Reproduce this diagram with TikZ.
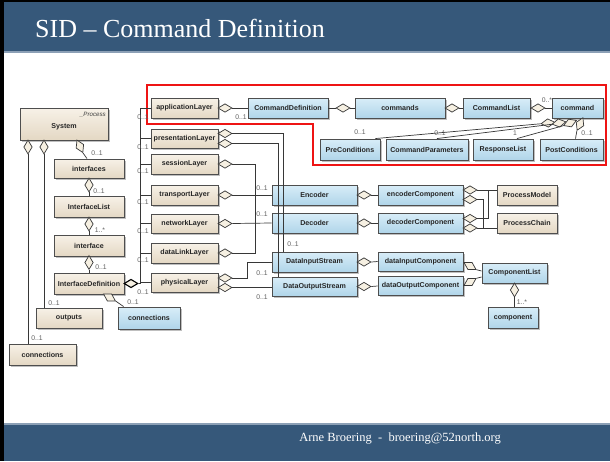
\documentclass[tikz,border=0pt]{standalone}
\usepackage{fontspec}
\setmainfont{Liberation Serif}
\setsansfont{Liberation Sans}
\usetikzlibrary{shapes.geometric,shadows}

\definecolor{barblue}{RGB}{54,88,122}
\definecolor{barline}{RGB}{140,160,182}
\definecolor{beigeTop}{RGB}{247,241,231}
\definecolor{beigeBot}{RGB}{228,216,196}
\definecolor{blueTop}{RGB}{216,237,248}
\definecolor{blueBot}{RGB}{176,213,233}
\definecolor{boxline}{RGB}{78,78,78}
\definecolor{wire}{RGB}{55,55,55}
\definecolor{multc}{RGB}{95,95,95}
\definecolor{aggfill}{RGB}{246,240,226}
\definecolor{framered}{RGB}{238,20,20}

\tikzset{
  cls/.style={draw=boxline, line width=0.9pt, inner sep=0pt,
    font=\sffamily\bfseries\fontsize{7.1}{8}\selectfont, text=black!85,
    drop shadow={shadow xshift=1.6pt, shadow yshift=-1.6pt, fill=black!45, opacity=0.55}},
  beige/.style={cls, top color=beigeTop, bottom color=beigeBot},
  bluebox/.style={cls, top color=blueTop, bottom color=blueBot},
  sz/.style 2 args={minimum width=#1pt, minimum height=#2pt},
  agg/.style={diamond, draw=wire, fill=aggfill, line width=0.7pt, inner sep=0pt,
    minimum width=14pt, minimum height=8.5pt},
  aggv/.style={agg, rotate=-90},
  wire/.style={draw=wire, line width=0.7pt},
  mult/.style={font=\sffamily\fontsize{6.8}{7}\selectfont, text=multc, inner sep=0pt},
}

\begin{document}
\begin{tikzpicture}[x=1pt,y=-1pt]
\useasboundingbox (0,0) rectangle (610,461);

% slide background, frame and bars
\fill[white] (0,0) rectangle (610,461);
\fill[black] (0,0) rectangle (4,461);
\fill[black] (0,0) rectangle (610,2);
\fill[barblue] (4,2) rectangle (610,51);
\fill[barline] (4,51) rectangle (610,53);
\fill[barline] (4,423) rectangle (610,425);
\fill[barblue] (4,425) rectangle (610,461);
\node[anchor=base west, text=white, font=\fontsize{26}{30}\selectfont, inner sep=0pt] (title) at (35,37) {SID – Command Definition};
\node[anchor=base east, text=white, font=\fontsize{12.5}{14}\selectfont, inner sep=0pt] (footer) at (501,441) {Arne Broering\ \ -\ \ broering@52north.org};

% highlighted command part
\draw[framered, line width=2pt] (147,85) -- (606,85) -- (606,165) -- (313,165) -- (313,124) -- (147,124) -- cycle;

% ---- classes: system side
\node[beige, sz={88}{32}] (sys) at (64,124) {\raisebox{-4pt}[0pt][0pt]{System}};
\node[font=\sffamily\itshape\fontsize{6.2}{7}\selectfont, text=black!75, anchor=north east, inner sep=0pt] (sysns) at (106,112) {\_Process};
\node[beige, sz={70}{19}] (ifs) at (89,168.5) {interfaces};
\node[beige, sz={70}{21}] (ifl) at (89,207) {InterfaceList};
\node[beige, sz={70}{21}] (ifc) at (89,245.5) {interface};
\node[beige, sz={70}{21}] (idef) at (89,283.5) {InterfaceDefinition};
\node[beige, sz={66}{20}] (outs) at (69,318) {outputs};
\node[beige, sz={67}{21}] (connL) at (42.5,354.5) {connections};
\node[bluebox, sz={62}{22}] (connM) at (149,318) {connections};

% ---- layers
\node[beige, sz={67}{20}] (app) at (184.5,108) {applicationLayer};
\node[beige, sz={67}{19}] (pres) at (184.5,138.5) {presentationLayer};
\node[beige, sz={67}{20}] (sess) at (184.5,164) {sessionLayer};
\node[beige, sz={67}{20}] (trans) at (184.5,195) {transportLayer};
\node[beige, sz={67}{19}] (net) at (184.5,223.5) {networkLayer};
\node[beige, sz={67}{20}] (dl) at (184.5,253) {dataLinkLayer};
\node[beige, sz={67}{19}] (phys) at (184.5,282.5) {physicalLayer};

% ---- command definition
\node[bluebox, sz={80}{20}] (cd) at (288,108) {CommandDefinition};
\node[bluebox, sz={90}{20}] (cmds) at (400,108) {commands};
\node[bluebox, sz={67}{20}] (cl) at (496.5,108) {CommandList};
\node[bluebox, sz={51}{20}] (cmd) at (577.5,108) {command};
\node[bluebox, sz={60}{21}] (pre) at (350,149.5) {PreConditions};
\node[bluebox, sz={82}{21}] (cpar) at (427,149.5) {CommandParameters};
\node[bluebox, sz={60}{21}] (resp) at (503,149.5) {ResponseList};
\node[bluebox, sz={63}{21}] (post) at (571.5,149.5) {PostConditions};

% ---- processing chain
\node[bluebox, sz={85}{20}] (enc) at (314.5,195) {Encoder};
\node[bluebox, sz={85}{20}] (dec) at (314.5,223) {Decoder};
\node[bluebox, sz={85}{20}] (dis) at (314.5,262) {DataInputStream};
\node[bluebox, sz={85}{19}] (dos) at (314.5,286.5) {DataOutputStream};
\node[bluebox, sz={85}{20}] (encC) at (420.5,195) {encoderComponent};
\node[bluebox, sz={85}{20}] (decC) at (420.5,223) {decoderComponent};
\node[bluebox, sz={85}{19}] (disC) at (420.5,261.5) {dataInputComponent};
\node[bluebox, sz={85}{19}] (dosC) at (420.5,286) {dataOutputComponent};
\node[beige, sz={60}{20}] (pm) at (527,195) {ProcessModel};
\node[beige, sz={60}{20}] (pc) at (527,223) {ProcessChain};
\node[bluebox, sz={65}{20}] (clist) at (514.5,273) {ComponentList};
\node[bluebox, sz={50}{21}] (comp) at (513,317.5) {component};

% ---- aggregation diamonds
\node[aggv] (dSysA) at (28,147) {};
\node[aggv] (dSysB) at (44,147) {};
\node[agg, rotate=-65] (dSysC) at (79.9,146.3) {};
\node[aggv] (dIfs) at (89,185) {};
\node[aggv] (dIfl) at (89,224) {};
\node[aggv] (dIfc) at (89,262.5) {};
\node[agg, rotate=-30] (dIdC) at (109.5,297.5) {};
\node[agg, draw=black, line width=1.1pt] (dIdL) at (131,283.5) {};

\node[agg] (dApp) at (225,108) {};
\node[agg] (dPres1) at (225,133.5) {};
\node[agg] (dPres2) at (225,143.5) {};
\node[agg] (dSess) at (225,164) {};
\node[agg] (dTrans) at (225,195) {};
\node[agg] (dNet) at (225,223.5) {};
\node[agg] (dDL) at (225,253) {};
\node[agg] (dPhys1) at (225,278) {};
\node[agg] (dPhys2) at (225,287.5) {};

\node[agg] (dCD) at (343,108) {};
\node[agg] (dCmds) at (452,108) {};
\node[agg] (dCL) at (538,108) {};
\node[agg, rotate=6] (dC1) at (548,123) {};
\node[agg, rotate=10] (dC2) at (559,123) {};
\node[agg, rotate=22] (dC3) at (570,123) {};
\node[agg, rotate=65] (dC4) at (580,124) {};

\node[agg] (dEnc) at (364,195) {};
\node[agg] (dDec) at (364,223) {};
\node[agg] (dDIS) at (364,262) {};
\node[agg] (dDOS) at (364,286.5) {};
\node[agg] (dEncC1) at (470,190) {};
\node[agg] (dEncC2) at (470,199.5) {};
\node[agg] (dDecC1) at (470,218.5) {};
\node[agg] (dDecC2) at (470,228) {};
\node[agg, rotate=-30] (dDIC) at (470,266) {};
\node[agg, rotate=30] (dDOC) at (470,282) {};
\node[aggv] (dCLb) at (514.5,290) {};

% ---- connectors: system side
\draw[wire] (dSysA.east) -- (dSysA.east |- connL.north);
\draw[wire] (dSysB.east) -- (dSysB.east |- outs.north);
\draw[wire] (dSysC.east) -- ([xshift=-2pt]ifs.north);
\draw[wire] (dIfs.east) -- (ifl.north);
\draw[wire] (dIfl.east) -- (ifc.north);
\draw[wire] (dIfc.east) -- (idef.north);
\draw[wire] (dIdC.east) -- ([xshift=6pt]connM.north west);

% layer bus
\coordinate (bus) at (140,108);
\draw[wire] (dIdL.east) -| (bus |- app.west) -- (app.west);
\foreach \l in {pres,sess,trans,net,dl,phys}
  \draw[wire] (bus |- \l.west) -- (\l.west);

% layers to command and processing classes
\draw[wire] (dApp.east) -- (cd.west);
\draw[wire] (dPres1.east) -| ([xshift=-31.5pt]dis.north);
\draw[wire] (dPres2.east) -| ([xshift=-36.5pt]dos.north);
\coordinate (sbus) at (255,253);
\draw[wire] (dSess.east) -| (sbus) -- (dDL.east);
\draw[wire] (dTrans.east) -- (enc.west);
\draw[wire] (dNet.east) -- (dec.west);
\draw[wire] (dPhys1.east) -- ++(15,0) |- (dis.west);
\draw[wire] (dPhys2.east) -- (dPhys2.east -| dos.west);

% command definition
\draw[wire] (cd.east) -- (dCD.west);
\draw[wire] (dCD.east) -- (cmds.west);
\draw[wire] (cmds.east) -- (dCmds.west);
\draw[wire] (dCmds.east) -- (cl.west);
\draw[wire] (cl.east) -- (dCL.west);
\draw[wire] (dCL.east) -- (cmd.west);
\draw[wire] (dC1.west) -- ([xshift=-5pt]pre.north east);
\draw[wire] (dC2.west) -- ([xshift=10pt]cpar.north);
\draw[wire] (dC3.west) -- ([xshift=14pt]resp.north);
\draw[wire] (dC4.west) -- ([xshift=4pt]post.north);

% processing chain
\draw[wire] (dEnc.west) -- (enc.east);
\draw[wire] (dEnc.east) -- (encC.west);
\draw[wire] (dDec.west) -- (dec.east);
\draw[wire] (dDec.east) -- (decC.west);
\draw[wire] (dDIS.west) -- (dis.east);
\draw[wire] (dDIS.east) -- (disC.west);
\draw[wire] (dDOS.west) -- (dos.east);
\draw[wire] (dDOS.east) -- (dosC.west);
\coordinate (jA) at (483,228);
\coordinate (jB) at (488,190);
\draw[wire] (dEncC1.east) -- (dEncC1.east -| pm.west);
\draw[wire] (dEncC2.east) -| (jA) -- (jA -| pc.west);
\draw[wire] (dDecC1.east) -| (jB);
\draw[wire] (dDecC2.east) -- (dDecC2.east -| pc.west);
\draw[wire] (dDIC.east) -- ([yshift=2pt]clist.west);
\draw[wire] (dDOC.east) -- ([yshift=-4pt]clist.west);
\draw[wire] (dCLb.east) -- (dCLb.east |- comp.north);

% ---- multiplicities
\node[mult] (m01) at (37,338) {0..1};
\node[mult] (m02) at (54,303) {0..1};
\node[mult] (m03) at (97,153) {0..1};
\node[mult] (m04) at (99,191) {0..1};
\node[mult] (m05) at (100,230) {1..*};
\node[mult] (m06) at (101,267) {0..1};
\node[mult] (m07) at (133,302) {0..1};
\node[mult] (m08) at (143,117) {0..1};
\node[mult] (m09) at (143,147) {0..1};
\node[mult] (m10) at (143,171) {0..1};
\node[mult] (m11) at (143,202) {0..1};
\node[mult] (m12) at (143,231) {0..1};
\node[mult] (m13) at (143,260) {0..1};
\node[mult] (m14) at (143,292) {0..1};
\node[mult] (m15) at (241,117) {0..1};
\node[mult] (m16) at (262,188) {0..1};
\node[mult] (m17) at (262,214) {0..1};
\node[mult] (m18) at (293,244) {0..1};
\node[mult] (m19) at (262,273) {0..1};
\node[mult] (m20) at (262,297) {0..1};
\node[mult] (m21) at (547,100) {0..*};
\node[mult] (m22) at (360,132) {0..1};
\node[mult] (m23) at (440,133) {0..1};
\node[mult] (m24) at (515,133) {1};
\node[mult] (m25) at (587,133) {0..1};
\node[mult] (m26) at (522,302) {1..*};
\end{tikzpicture}
\end{document}
